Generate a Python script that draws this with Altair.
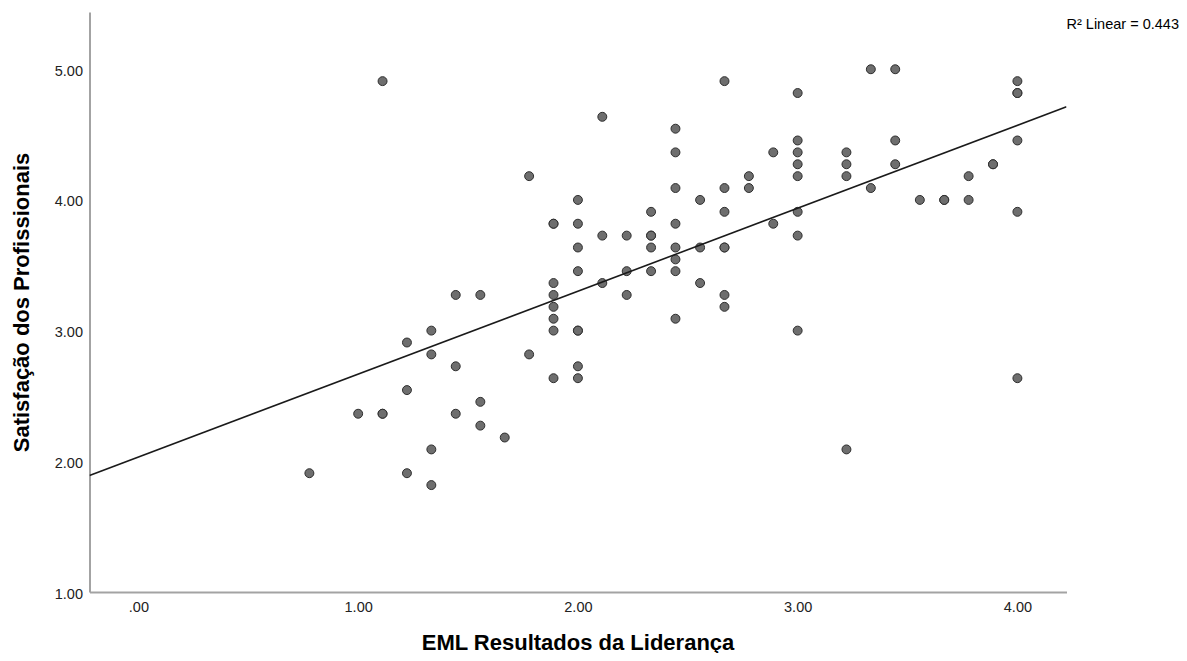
import altair as alt
import pandas as pd

# ---- data (x = EML, y = satisfaction) ----
x_vals = [
    0.778,
    1.0,
    1.111, 1.111, 1.111,
    1.222, 1.222, 1.222,
    1.333, 1.333, 1.333, 1.333,
    1.444, 1.444, 1.444,
    1.556, 1.556, 1.556,
    1.667,
    1.778, 1.778,
    1.889, 1.889, 1.889, 1.889, 1.889, 1.889, 1.889, 1.889,
    2.0, 2.0, 2.0, 2.0, 2.0, 2.0, 2.0, 2.0,
    2.111, 2.111, 2.111,
    2.222, 2.222, 2.222,
    2.333, 2.333, 2.333, 2.333, 2.333,
    2.444, 2.444, 2.444, 2.444, 2.444, 2.444, 2.444, 2.444,
    2.556, 2.556, 2.556,
    2.667, 2.667, 2.667, 2.667, 2.667, 2.667, 2.667,
    2.778, 2.778,
    2.889, 2.889,
    3.0, 3.0, 3.0, 3.0, 3.0, 3.0, 3.0, 3.0,
    3.222, 3.222, 3.222, 3.222,
    3.333, 3.333,
    3.444, 3.444, 3.444,
    3.556,
    3.667, 3.667,
    3.778, 3.778,
    3.889, 3.889,
    4.0, 4.0, 4.0, 4.0, 4.0, 4.0,
]
y_vals = [
    1.909,
    2.364,
    4.909, 2.364, 2.364,
    2.909, 2.545, 1.909,
    3.0, 2.818, 2.091, 1.818,
    3.273, 2.727, 2.364,
    3.273, 2.455, 2.273,
    2.182,
    4.182, 2.818,
    3.818, 3.818, 3.364, 3.273, 3.182, 3.091, 3.0, 2.636,
    4.0, 3.818, 3.636, 3.455, 3.0, 3.0, 2.727, 2.636,
    4.636, 3.727, 3.364,
    3.727, 3.455, 3.273,
    3.909, 3.727, 3.727, 3.636, 3.455,
    4.545, 4.364, 4.091, 3.818, 3.636, 3.545, 3.455, 3.091,
    4.0, 3.636, 3.364,
    4.909, 4.091, 3.909, 3.636, 3.636, 3.273, 3.182,
    4.182, 4.091,
    4.364, 3.818,
    4.818, 4.455, 4.364, 4.273, 4.182, 3.909, 3.727, 3.0,
    4.364, 4.273, 4.182, 2.091,
    5.0, 4.091,
    5.0, 4.455, 4.273,
    4.0,
    4.0, 4.0,
    4.182, 4.0,
    4.273, 4.273,
    4.909, 4.818, 4.818, 4.455, 3.909, 2.636,
]
x_ticks = [0, 1, 2, 3, 4]
y_ticks = [1, 2, 3, 4, 5]
x_title = "EML Resultados da Liderança"
y_title = "Satisfação dos Profissionais"
r2_text = ["R² Linear = 0.443"]

df = pd.DataFrame({"x": x_vals, "y": y_vals})

FONT = "Arial, Liberation Sans, sans-serif"
X_DOMAIN = [-0.2226, 4.2234]
Y_DOMAIN = [1.0, 5.438]

xscale = alt.Scale(domain=X_DOMAIN, nice=False, zero=False)
yscale = alt.Scale(domain=Y_DOMAIN, nice=False, zero=False)

label_expr = "datum.value == 0 ? '.00' : format(datum.value, '.2f')"

common_axis = dict(
    grid=False, ticks=False, tickSize=0,
    domainColor="#a3a3a3", domainWidth=2,
    labelFont=FONT, labelFontSize=14.5, labelColor="#222222",
    titleFont=FONT, titleFontSize=22, titleFontWeight="bold", titleColor="#000000",
    titleBaseline="alphabetic", titleAlign="center",
)

X = alt.X("x:Q", scale=xscale, axis=alt.Axis(
    values=x_ticks, labelExpr=label_expr, title=x_title,
    labelPadding=8, titleX=488, titleY=57, **common_axis))
Y = alt.Y("y:Q", scale=yscale, axis=alt.Axis(
    values=y_ticks, labelExpr=label_expr, title=y_title,
    labelPadding=7, labelOffset=2, titleX=-61, titleY=290, titleAngle=270,
    **common_axis))

points = alt.Chart(df).mark_circle(
    size=80, color="#6e6e6e", stroke="#2e2e2e", strokeWidth=1, opacity=1
).encode(x=X, y=Y)

line = alt.Chart(df).transform_regression(
    "x", "y", extent=X_DOMAIN
).mark_line(color="#1a1a1a", strokeWidth=1.6, clip=True).encode(x=X, y=Y)

r2 = alt.Chart(pd.DataFrame({"label": r2_text})).mark_text(
    align="left", baseline="middle", font=FONT, fontSize=14.5, color="#000000"
).encode(x=alt.value(977), y=alt.value(13), text="label:N")

chart = alt.layer(points, line, r2).properties(
    width=977, height=580,
    padding={"left": 81.5, "top": 4, "right": 112, "bottom": 61},
    autosize=alt.AutoSizeParams(type="none"),
    background="white",
).configure_view(stroke=None)

chart.save("out.html", embed_options={"renderer": "svg", "actions": False})
